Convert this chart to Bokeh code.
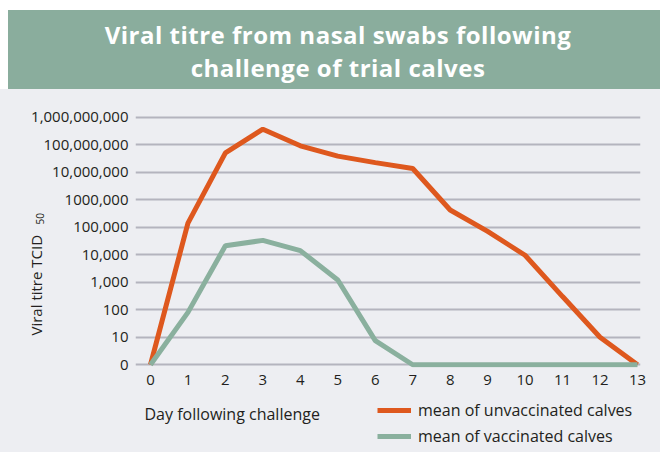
from bokeh.plotting import figure
from bokeh.layouts import column
from bokeh.models import (Range1d, FixedTicker, Label, Legend, LegendItem, Div)
from bokeh.embed import file_html
from bokeh.resources import INLINE

# ---- data ----
title_lines = ["Viral titre from nasal swabs following", "challenge of trial calves"]
days = [0, 1, 2, 3, 4, 5, 6, 7, 8, 9, 10, 11, 12, 13]
unvaccinated = [1, 1.4e5, 5.0e7, 3.6e8, 9.0e7, 3.8e7, 2.2e7, 1.35e7, 4.2e5, 7.0e4, 9.5e3, 3.0e2, 1.0e1, 1]
vaccinated = [1, 8.0e1, 2.1e4, 3.3e4, 1.4e4, 1.2e3, 7.5, 1, 1, 1, 1, 1, 1, 1]
y_ticks = [1, 10, 100, 1000, 10000, 100000, 1000000, 10000000, 100000000, 1000000000]
y_tick_labels = ["0", "10", "100", "1,000", "10,000", "100,000", "1000,000",
                 "10,000,000", "100,000,000", "1,000,000,000"]
x_label = "Day following challenge"
y_label = "Viral titre TCID"
y_label_sub = "50"
series_names = ["mean of unvaccinated calves", "mean of vaccinated calves"]

FONT = "Open Sans"
BANNER = "#8AAD9D"
PANEL = "#EDEEF2"
ORANGE = "#DE581E"
GREEN = "#8AB09E"
GRID = "#B4B4BE"
TEXT = "#231F20"

# ---- banner ----
banner = Div(
    text=('<div style="display:block;box-sizing:border-box;width:660px;height:89px;'
          'border-top:10px solid white;border-left:8px solid white;'
          'background-color:' + BANNER + ';color:white;font-family:\'' + FONT + '\';'
          'font-weight:bold;font-size:24px;letter-spacing:0.5px;line-height:33px;'
          'padding-top:8px;padding-left:8px;text-align:center;overflow:hidden;">'
          + title_lines[0] + '<br>' + title_lines[1] + '</div>'),
    width=660, height=89, margin=0)

# ---- main chart ----
p = figure(width=660, height=306, y_axis_type="log",
           x_range=Range1d(-0.4, 13.08), y_range=Range1d(10 ** -0.1, 10 ** 9.2),
           output_backend="svg", toolbar_location=None,
           min_border_left=127, min_border_right=20, min_border_top=22, min_border_bottom=28)
p.background_fill_color = PANEL
p.border_fill_color = PANEL
p.outline_line_color = None

yaxis = p.yaxis[0]
yaxis.ticker = FixedTicker(ticks=y_ticks)
yaxis.major_label_overrides = {t: l for t, l in zip(y_ticks, y_tick_labels)}
yaxis.axis_line_color = None
yaxis.major_tick_line_color = None
yaxis.minor_tick_line_color = None
yaxis.major_tick_out = 0
yaxis.major_tick_in = 0
yaxis.major_label_standoff = 7
yaxis.major_label_text_font = FONT
yaxis.major_label_text_font_size = "15px"
yaxis.major_label_text_color = TEXT

xaxis = p.xaxis[0]
xaxis.ticker = FixedTicker(ticks=days)
xaxis.axis_line_color = None
xaxis.major_tick_line_color = None
xaxis.minor_tick_line_color = None
xaxis.major_tick_out = 0
xaxis.major_tick_in = 0
xaxis.major_label_standoff = 7
xaxis.major_label_text_font = FONT
xaxis.major_label_text_font_size = "15px"
xaxis.major_label_text_color = TEXT

p.xgrid.visible = False
p.ygrid.ticker = FixedTicker(ticks=y_ticks)
p.ygrid.grid_line_color = GRID
p.ygrid.grid_line_width = 2

p.line(days, unvaccinated, line_color=ORANGE, line_width=5)
p.line(days, vaccinated, line_color=GREEN, line_width=5)

p.add_layout(Label(x=35, y=246, x_units="canvas", y_units="canvas", text=y_label,
                   angle=90, angle_units="deg",
                   text_font=FONT, text_font_size="15px", text_color=TEXT,
                   text_baseline="alphabetic"), "left")
p.add_layout(Label(x=39, y=135, x_units="canvas", y_units="canvas", text=y_label_sub,
                   angle=90, angle_units="deg",
                   text_font=FONT, text_font_size="10px", text_color=TEXT,
                   text_baseline="alphabetic"), "left")

# ---- bottom strip: axis title and legend ----
b = figure(width=660, height=57, x_range=Range1d(100, 101), y_range=Range1d(-2, -1),
           x_axis_location=None, y_axis_location=None,
           output_backend="svg", toolbar_location=None,
           min_border_left=135, min_border_right=20, min_border_top=0, min_border_bottom=0)
b.background_fill_color = PANEL
b.border_fill_color = PANEL
b.outline_line_color = None
b.grid.visible = False
# same series (outside the strip's view) so the legend shows their line styles
k1 = b.line(days, unvaccinated, line_color=ORANGE, line_width=5)
k2 = b.line(days, vaccinated, line_color=GREEN, line_width=5)

legend = Legend(items=[LegendItem(label=series_names[0], renderers=[k1]),
                       LegendItem(label=series_names[1], renderers=[k2])],
                location=(242, 3), orientation="vertical",
                glyph_width=34, glyph_height=26, label_height=26, spacing=0,
                label_standoff=7, padding=0, margin=0,
                label_text_font=FONT, label_text_font_size="16px", label_text_color=TEXT,
                background_fill_alpha=0, border_line_alpha=0)
b.add_layout(legend, "center")
b.add_layout(Label(x=144, y=18, x_units="canvas", y_units="canvas", text=x_label,
                   text_font=FONT, text_font_size="16px", text_color=TEXT,
                   text_baseline="alphabetic"))

layout = column(banner, p, b, spacing=0, styles={"background-color": PANEL})
open("out.html", "w").write(file_html(layout, INLINE))
